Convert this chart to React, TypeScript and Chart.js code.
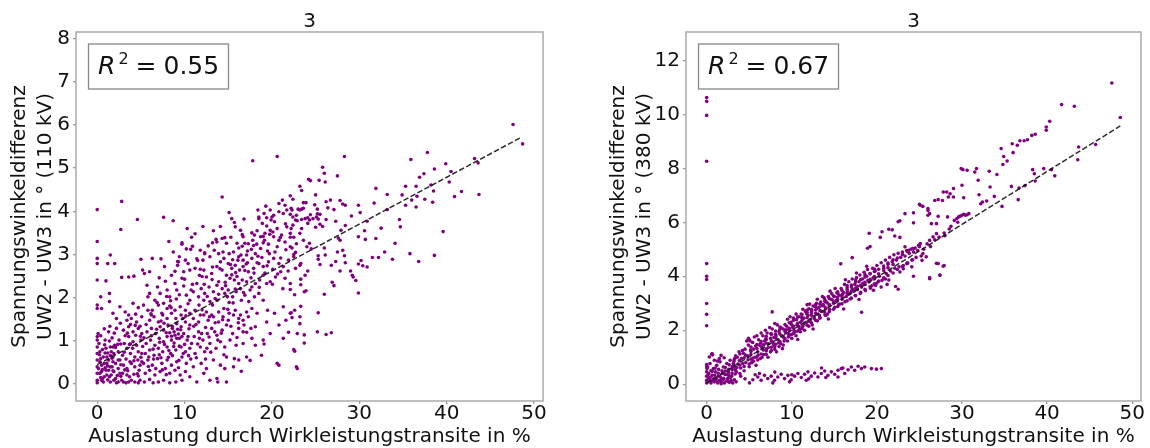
import React, { useEffect, useRef } from "react";
import { Chart, registerables } from "chart.js";

Chart.register(...registerables);

// ---------- data ----------
const xTicks = [0, 10, 20, 30, 40, 50];
const yTicks110 = [0, 1, 2, 3, 4, 5, 6, 7, 8];
const yTicks380 = [0, 2, 4, 6, 8, 10, 12];
const panelTitles = ["3", "3"];
const r2Values = ["0.55", "0.67"];
const xAxisLabel = "Auslastung durch Wirkleistungstransite in %";
const yAxisLabel110 = ["Spannungswinkeldifferenz", "UW2 - UW3 in ° (110 kV)"];
const yAxisLabel380 = ["Spannungswinkeldifferenz", "UW2 - UW3 in ° (380 kV)"];
const fit110: number[][] = [[0, 0.45], [48.6, 5.72]];
const fit380: number[][] = [[0, 0.04], [48.6, 9.57]];

const points110: number[][] = [
  [0,4.04],[0,3.30],[0,2.91],[0,2.79],[0,2.41],[0,1.83],[0,1.75],[0.1,1.17],[0,1.10],[0,1.02],[0,0.86],[0,0.71],[0,0.56],[0,0.40],[0,0.25],[0,0.09],[0,0.03],
  [0.2,0.94],[0.3,0.75],[0.4,0.59],[0.5,0.44],[0.5,0.29],[0.6,0.13],[0.7,0.05],
  [0.9,1.02],[1.0,0.83],[1.1,0.63],[1.1,0.48],[1.3,0.32],[1.4,0.17],[1.5,0.05],
  [1.5,0.86],[1.6,0.75],[1.8,0.63],[1.8,0.52],[1.7,0.40],[1.9,0.29],[2.1,0.13],[2.2,0.03],
  [0.7,0.63],[0.8,0.48],[1.0,0.32],[1.3,0.56],[1.5,0.40],[1.8,0.86],[1.9,0.71],[2.1,0.48],[2.4,0.36],[2.6,0.25],
  [0.3,0.25],[0.5,0.09],[0.8,0.17],[1.1,0.21],[1.6,0.21],[1.9,0.09],[2.4,0.05],[2.8,0.09],
  [0.4,0.15],[0.9,0.38],[1.2,0.10],[1.7,0.60],[2.3,0.20],[2.0,0.90],[0.6,0.80],[1.4,1.00],[2.7,0.45],[1.2,0.72],
  [0.3,0.52],[0.6,0.34],[0.9,0.72],[1.2,0.42],[1.5,0.66],[1.8,0.31],[2.1,0.85],[2.4,0.56],[2.7,0.18],[3.1,0.74],[3.5,0.31],[3.8,0.93],[4.2,0.54],[4.6,0.24],[5.0,0.62],
  [0.4,1.12],[0.8,1.28],[1.3,1.21],[1.7,1.07],[2.2,1.29],[2.7,0.93],[3.2,1.12],[3.8,1.38],[4.4,1.62],[4.9,1.34],
  [2.8,4.23],[2.7,3.58],[4.6,3.81],[7.6,3.86],[8.7,3.78],[11.2,3.48],
  [1.5,2.99],[1.2,2.79],[2.0,2.79],[1.0,2.39],[1.4,2.10],[1.4,1.91],[0.4,2.02],[0.5,1.75],
  [2.8,2.47],[3.6,2.48],[4.2,2.50],[5.0,2.89],[6.3,2.91],[5.2,2.64],[5.4,2.56],[7.1,2.46],[7.7,2.72],
  [5.7,2.29],[6.0,2.10],[5.8,2.02],[7.2,2.10],[8.0,2.18],[8.3,2.02],[8.9,2.33],[9.1,2.18],[9.9,2.27],[9.7,2.45],
  [9.3,2.83],[9.2,2.75],[10.1,2.87],[10.4,2.79],[10.6,2.64],[9.9,2.60],[8.5,2.52],
  [8.7,3.06],[9.7,3.24],[10.2,3.13],[10.9,3.19],[11.8,3.10],[12.3,3.02],[12.9,2.95],[12.1,2.87],
  [11.2,2.68],[11.7,2.52],[12.2,2.64],[12.5,2.48],[13.1,2.56],[13.7,2.72],[14.1,2.83],[14.5,2.91],
  [13.4,3.10],[13.9,3.02],[14.4,3.06],[15.1,3.02],[15.6,3.06],[16.2,2.95],[16.7,2.87],[17.1,2.99],[17.7,2.91],[18.1,3.02],
  [15.0,2.79],[15.4,2.68],[15.8,2.75],[16.3,2.64],[16.7,2.72],[17.3,2.60],[17.9,2.68],[18.5,2.79],[19.0,2.72],[19.6,2.83],[20.2,2.91],[20.8,2.79],[21.3,2.72],[21.9,2.87],[22.5,2.95],
  [14.8,2.52],[15.2,2.45],[15.7,2.41],[16.2,2.33],[16.6,2.41],[17.1,2.37],[17.7,2.25],[18.1,2.33],[18.6,2.41],[19.0,2.52],[19.4,2.33],[19.8,2.37],[20.4,2.48],[21.0,2.60],[21.5,2.45],[22.1,2.33],[22.7,2.68],[23.2,2.75],[23.8,2.52],
  [13.9,2.37],[14.3,2.21],[14.6,2.10],[15.0,2.18],[15.5,2.02],[15.9,2.14],[16.4,2.21],[16.9,2.06],[17.5,2.18],[18.0,2.02],[18.5,2.10],[19.0,1.94],
  [11.4,2.33],[11.9,2.21],[12.3,2.10],[12.8,2.25],[13.3,2.14],[13.5,1.98],[12.9,1.91],[12.2,1.94],[11.6,2.02],[11.0,2.14],[10.6,1.94],[10.2,2.06],
  [6.6,1.94],[7.0,1.83],[7.6,1.87],[8.0,1.75],[8.3,1.81],[8.9,1.71],[9.5,1.79],[10.1,1.71],[10.6,1.64],[11.2,1.71],[11.8,1.60],[12.5,1.67],[13.1,1.60],[13.9,1.67],[14.5,1.75],[15.1,1.64],[15.8,1.71],[16.4,1.60],[17.1,1.67],[17.7,1.75],[18.3,1.64],[19.5,1.71],[20.3,1.64],[21.3,1.79],[22.6,1.71],[23.2,1.56],
  [4.1,1.87],[4.7,1.77],[5.3,1.83],[5.8,1.71],[6.2,1.60],
  [2.6,1.79],[3.2,1.67],[3.6,1.60],[1.8,1.64],[2.2,1.52],
  [3.0,0.05],[3.3,0.03],[3.6,0.05],[3.9,0.09],[4.3,0.05],[4.7,0.03],[4.9,0.09],
  [2.9,0.25],[3.4,0.21],[3.7,0.17],[4.2,0.23],[4.7,0.19],
  [2.6,0.56],[3.0,0.44],[3.4,0.36],[3.9,0.48],[4.3,0.40],[4.8,0.32],[5.1,0.52],
  [2.4,0.75],[2.9,0.67],[3.4,0.83],[3.8,0.71],[4.3,0.63],[4.7,0.75],[5.1,0.71],
  [2.5,1.02],[3.1,0.94],[3.6,1.10],[4.1,0.98],[4.5,0.90],[5.0,1.02],
  [3.0,1.25],[3.6,1.33],[4.1,1.21],[4.7,1.29],[5.1,1.17],
  [3.4,1.48],[3.9,1.52],[4.5,1.44],[5.1,1.56],
  [5.4,0.05],[6.0,0.11],[6.4,0.03],[7.0,0.05],[7.6,0.09],[8.3,0.03],[9.0,0.05],[9.7,0.09],
  [5.5,0.25],[6.0,0.32],[6.6,0.21],[7.2,0.29],[7.8,0.36],[8.3,0.25],[8.9,0.32],[9.5,0.21],[10.1,0.29],
  [5.3,0.48],[5.8,0.56],[6.3,0.44],[6.9,0.59],[7.4,0.48],[8.0,0.56],[8.5,0.44],[9.1,0.52],[9.7,0.63],[10.2,0.48],
  [5.5,0.71],[6.0,0.79],[6.5,0.67],[7.0,0.83],[7.5,0.75],[8.0,0.86],[8.4,0.71],[9.0,0.79],[9.6,0.86],[10.1,0.75],[10.6,0.83],
  [5.6,0.94],[6.1,1.02],[6.6,0.90],[7.1,1.06],[7.6,0.98],[8.0,1.10],[8.5,1.02],[8.9,1.13],[9.4,1.06],[9.9,1.17],[10.4,1.10],
  [5.7,1.21],[6.2,1.29],[6.7,1.17],[7.2,1.33],[7.6,1.25],[8.1,1.37],[8.6,1.29],[9.1,1.40],[9.6,1.33],[10.1,1.44],[10.6,1.37],
  [6.0,1.48],[6.5,1.56],[7.0,1.44],[7.5,1.60],[8.0,1.52],[8.5,1.64],[9.0,1.52],[9.6,1.60],
  [8.3,1.19],[8.5,1.11],[8.8,1.21],[9.1,1.06],[9.3,1.16],[9.7,1.10],
  [3.3,0.58],[3.7,0.92],[4.4,1.13],[4.9,0.44],[5.2,0.87],[5.6,1.38],[5.9,0.63],[6.2,1.12],[6.4,0.81],[6.8,1.27],[7.1,0.68],[7.3,1.46],[7.7,0.92],[7.9,1.19],[8.2,0.78],[8.6,1.34],[8.8,0.95],[9.2,1.27],[9.4,0.88],[9.8,1.52],
  [10.3,1.02],[10.5,1.28],[10.8,0.94],[11.3,1.38],[11.7,1.06],[12.0,1.72],[12.4,1.31],[12.8,1.09],[13.2,1.83],[13.5,1.42],[13.9,2.08],[14.2,1.18],[14.7,2.28],[15.1,1.89],[15.4,2.53],[15.8,2.20],[16.1,2.87],[16.5,1.94],[16.9,2.63],[17.2,3.08],[17.6,2.46],[17.9,3.21],[18.3,2.81],[18.7,3.14],[19.2,2.57],[19.7,3.02],[20.1,2.66],[20.6,3.18],[21.0,2.92],[21.6,3.11],
  [6.3,1.71],[6.9,2.25],[7.4,1.64],[7.8,2.38],[8.4,1.93],[8.9,2.61],[9.4,2.07],[10.0,2.43],[10.4,1.86],[10.9,2.31],[11.5,2.86],[12.0,2.49],[12.6,2.03],[13.2,2.71],[13.7,2.29],[14.3,2.64],[14.9,2.02],[15.5,2.88],[16.0,2.49],[16.6,3.19],[17.2,2.81],[17.8,3.33],[18.4,2.96],[19.0,3.42],[19.5,3.08],[20.1,3.52],
  [6.7,0.36],[7.3,0.61],[7.9,0.22],[8.6,0.66],[9.3,0.38],[10.0,0.92],[10.7,0.58],[11.5,0.93],[12.4,0.58],[13.0,0.74],[13.8,1.02],[14.5,0.68],[15.3,1.34],[16.0,1.08],[16.8,1.37],[17.6,1.29],
  [5.35,1.07],[5.85,0.41],[6.15,1.63],[6.45,0.58],[6.85,1.89],[7.15,0.97],[7.45,0.33],[7.65,1.41],[7.95,2.03],[8.15,0.62],[8.45,1.77],[8.75,0.87],[9.05,1.97],[9.35,0.55],[9.55,1.26],[9.85,0.71],[10.15,1.58],[10.45,0.66],[10.75,2.18],[11.05,1.34],
  [11.35,0.61],[11.65,1.83],[11.95,1.17],[12.25,2.31],[12.55,0.83],[12.85,1.56],[13.15,2.42],[13.45,1.21],[13.75,1.94],[14.05,2.67],[14.35,1.49],[14.65,2.36],[14.95,1.73],[15.25,2.77],[15.55,1.88],[15.85,2.58],[16.15,1.42],[16.45,2.99],[16.75,2.12],[17.05,2.78],
  [17.35,1.91],[17.65,3.12],[17.95,2.57],[18.25,3.24],[18.55,2.24],[18.85,2.93],[19.15,3.33],[19.45,2.74],[19.75,3.47],[20.05,2.31],[20.35,3.06],[20.65,2.55],[20.95,3.39],[21.25,2.21],[21.55,3.71],[21.85,2.62],
  [4.05,0.83],[4.35,1.36],[4.65,0.56],[4.95,1.11],[3.15,0.33],[3.45,1.18],[3.75,0.52],[2.35,0.92],[2.65,1.41],[1.95,1.18],[1.45,1.34],[0.85,0.91],[0.25,0.68],[0.15,0.36],
  [6.0,2.60],[7.3,2.90],[8.2,3.30],[9.4,2.95],[10.8,3.40],[11.4,2.90],[12.7,3.20],[13.3,3.55],[12.1,3.65],[10.3,3.60],[15.3,3.40],[16.2,3.15],[17.3,3.25],[18.3,3.55],[19.4,3.85],[14.1,3.65],
  [10.6,0.17],[11.4,0.05],[12.2,0.25],[12.9,0.09],[13.7,0.13],[14.8,0.05],
  [11.0,0.40],[11.9,0.48],[12.5,0.36],[13.3,0.56],[14.1,0.44],[14.8,0.63],[15.6,0.40],[16.2,0.56],
  [11.2,0.71],[11.8,0.86],[12.3,0.75],[12.9,0.94],[13.6,0.83],[14.1,0.98],[14.6,0.86],[15.2,1.02],[15.9,0.90],
  [11.1,1.10],[11.6,1.21],[12.1,1.02],[12.6,1.17],[13.1,1.29],[13.7,1.13],[14.3,1.25],[14.8,1.37],[15.5,1.17],[16.2,1.29],[16.7,1.21],
  [11.0,1.52],[11.6,1.44],[12.2,1.60],[12.7,1.48],[13.3,1.56],[13.9,1.44],[14.4,1.56],[15.0,1.48],[15.6,1.60],[16.2,1.52],[16.7,1.48],[17.3,1.56],
  [16.7,0.94],[17.7,1.06],[19.0,1.02],[19.8,1.17],[21.3,1.06],[22.9,1.17],[17.1,0.63],[18.8,0.67],[20.8,0.44],[22.8,0.40],[20.6,0.48],[22.5,0.80],
  [18.1,1.33],[19.4,1.44],[20.8,1.37],[21.6,1.48],[23.2,1.40],[16.5,0.30],[21.9,1.20],[22.2,1.65],[19.1,0.93],[17.5,0.55],[18.1,0.90],[15.7,0.59],[17.1,1.20],[14.6,0.36],[13.8,0.05],
  [15.1,3.97],[15.4,3.83],[15.7,3.74],[15.8,3.64],
  [14.3,3.37],[14.6,3.39],[14.8,3.26],[13.7,3.29],[13.2,3.27],
  [16.4,3.56],[16.6,3.46],[16.7,3.41],[16.0,3.26],[16.9,3.26],[17.7,3.50],[18.0,3.45],
  [18.5,3.83],[18.9,3.72],[19.4,3.66],[19.9,3.80],[20.3,3.76],[20.6,3.60],[19.8,3.56],[19.2,3.49],[18.7,3.41],[19.0,3.27],[19.6,3.24],[20.2,3.41],[20.8,3.33],[21.1,3.45],[21.5,3.29],[22.1,3.49],[22.4,3.68],[22.7,3.80],[22.8,3.91],[23.2,4.03],[23.6,4.07],[23.8,3.83],[24.1,3.72],[23.4,3.60],[23.2,3.49],[23.6,3.33],[24.0,3.18],[22.1,3.18],[21.7,3.64],[21.3,3.95],[20.8,3.99],[20.2,3.91],[21.7,4.03],[22.2,4.07],[19.8,4.03],[19.1,3.95],
  [14.3,4.33],[17.8,5.17],[20.6,5.27],[19.3,4.12],[18.4,4.03],[21.2,4.26],[21.5,4.14],[20.8,4.18],[16.8,3.82],[18.5,3.87],[20.0,3.87],
  [9.2,2.84],[9.7,3.27],[10.7,3.12],[11.8,2.66],[12.3,3.04],[13.6,3.35],
  [47.6,6.01],[48.7,5.56],[28.3,5.27],[37.8,5.36],[35.9,5.20],[43.2,5.22],[43.6,5.12],[39.9,5.10],[38.6,4.98],[40.5,4.92],[25.8,5.02],[26.0,4.88],[27.5,4.82],[36.9,4.79],[37.4,4.87],[24.2,4.74],[24.4,4.71],[25.4,4.72],[26.1,4.68],[40.3,4.68],[31.9,4.53],[35.3,4.58],[36.5,4.58],[38.2,4.61],[38.5,4.47],[41.7,4.46],[43.7,4.39],[40.9,4.34],
  [22.1,4.36],[22.4,4.28],[23.2,4.58],[23.4,4.48],[25.0,4.38],[33.2,4.39],[34.9,4.38],[36.0,4.26],[36.6,4.35],[36.5,4.10],[37.5,4.28],[38.4,4.21],[31.7,4.19],[35.3,4.14],[23.6,4.20],[23.9,4.20],[26.2,4.22],[26.7,4.26],[27.8,4.25],[28.1,4.17],[28.4,4.14],[29.9,4.14],[30.1,3.97],[27.1,4.04],[26.4,4.08],[23.0,4.05],[23.4,4.05],[24.9,4.15],[25.2,4.05],[22.3,4.03],[22.1,3.93],[22.4,3.87],[22.9,3.78],[23.4,3.81],
  [24.1,3.85],[24.4,3.92],[24.3,3.80],[24.7,3.83],[25.1,3.87],[25.2,3.94],[25.3,3.82],[25.5,3.93],
  [22.2,3.60],[22.5,3.40],[22.8,3.25],[22.3,3.15],[22.7,3.05],[22.1,3.40],[22.5,3.00],
  [26.2,3.81],[27.3,3.77],[29.1,3.89],[30.9,3.77],[32.5,3.61],[33.2,4.04],[34.6,3.81],[34.7,3.64],[25.0,3.63],[25.5,3.70],[25.8,3.65],[28.4,3.67],[29.9,3.41],[30.6,3.55],[27.9,3.56],[27.6,3.38],[27.8,3.33],[31.9,3.37],[39.6,3.53],[30.7,3.35],
  [24.5,3.13],[24.3,3.26],[26.0,3.15],[25.3,2.89],[25.3,2.97],[26.1,2.99],[27.5,3.06],[28.1,3.10],[28.3,2.97],[28.4,2.81],[31.5,2.93],[32.2,2.93],[32.9,3.06],[34.1,3.26],[33.8,2.89],[35.8,3.02],[36.8,2.84],[38.6,2.98],
  [29.9,2.78],[30.2,2.86],[30.4,2.74],[30.9,2.71],[27.8,2.62],[29.0,2.62],[29.2,2.52],[29.3,2.48],[29.6,2.40],[26.8,2.75],[27.3,2.84],[25.5,2.77],[24.1,2.62],[23.3,2.79],[23.3,2.43],
  [26.0,2.08],[26.9,2.36],[27.1,2.28],[25.3,1.65],[23.7,2.14],[23.9,2.16],[23.3,2.30],[22.6,2.07],[22.1,2.19],[23.3,1.80],[22.1,1.64],[22.3,1.54],[29.9,2.11],
  [25.2,1.21],[26.2,1.15],[26.8,1.19],[23.7,1.14],[23.7,0.95],[22.6,0.76],[22.9,0.36]
];

const points380: number[][] = [
  [0,10.62],[0,10.48],[0,9.96],[0,8.26],[0,4.47],[0,4.00],[0,3.88],[0,2.99],[0,2.59],[0,2.17],[0,0.73],[0.04,0.58],[0,0.46],[0,0.30],[0,0.65],[0,0.15],[0,0.05],
  [0.12,0.09],[0.31,0.17],[0.51,0.05],[0.71,0.15],[0.90,0.09],[1.10,0.21],[1.30,0.05],[1.49,0.15],[1.69,0.09],[1.88,0.17],[2.08,0.05],[2.28,0.12],[2.47,0.21],[2.67,0.07],[2.87,0.15],[3.06,0.05],[3.26,0.17],[3.46,0.09],
  [0.24,0.40],[0.63,0.33],[1.02,0.46],[1.41,0.30],[1.81,0.40],[2.20,0.49],[2.59,0.33],[2.98,0.42],[3.38,0.52],
  [0.12,0.64],[0.39,0.77],[0.79,0.58],[1.18,0.70],[1.57,0.83],[1.96,0.64],[2.36,0.77],[2.75,0.89],[3.14,0.70],
  [0.31,1.01],[0.90,0.89],[1.49,0.95],[0.63,1.14],[1.69,1.07],[0.59,1.10],[0.70,1.09],
  [0.4,0.25],[0.8,0.20],[1.2,0.12],[1.6,0.28],[2.0,0.22],[2.4,0.35],[2.8,0.25],[1.0,0.60],[1.4,0.55],[1.8,0.50],[2.2,0.62],[2.6,0.55],[3.0,0.65],[0.5,0.50],[0.2,0.20],[1.7,0.02],[2.5,0.10],
  [0.15,0.31],[0.45,0.12],[0.95,0.33],[1.35,0.41],[1.75,0.18],[2.15,0.36],[2.55,0.44],[2.95,0.31],[3.35,0.38],[0.65,0.47],[1.25,0.86],[2.05,0.98],[2.65,0.72],[3.25,0.93],
  [3.0,0.55],[3.2,0.85],[3.4,1.05],[3.5,0.45],[3.7,0.75],[3.8,1.20],[4.0,0.60],[4.1,0.95],[4.3,1.15],[4.4,0.50],[4.5,1.30],[4.6,0.80],[4.8,1.05],[4.9,1.45],[5.0,0.65],[4.2,1.25],[3.6,1.00],[3.9,0.40],[4.7,1.60],[5.0,1.65],
  [3.3,0.62],[3.3,0.95],[3.9,0.71],[3.9,1.12],[4.4,0.98],[4.4,0.66],
  [3.15,0.78],[3.55,0.62],[3.85,0.88],[4.25,0.77],[4.55,1.08],[4.85,0.91],[5.15,1.27],[5.45,0.97],[5.75,1.42],[6.05,1.08],[6.35,1.52],[6.65,1.27],[6.95,1.69],[7.25,1.36],[7.55,1.88],[7.85,1.47],[8.15,1.79],[8.45,1.54],[8.75,2.09],[9.05,1.73],
  [9.35,2.02],[9.65,1.86],[9.95,2.21],[10.25,1.99],[10.55,2.39],[10.85,2.14],[11.15,2.47],[11.45,2.24],[11.75,2.61],[12.05,2.33],[12.35,2.72],[12.65,2.44],[12.95,2.81],[13.25,2.55],[13.55,2.91],[13.85,2.68],[14.15,3.01],[14.45,2.77],[14.75,3.13],[15.05,2.85],
  [15.35,3.22],[15.65,2.97],[15.95,3.33],[16.25,3.06],[16.55,3.43],[16.85,3.16],[17.15,3.52],[17.45,3.29],[17.75,3.63],[18.05,3.36],[18.35,3.74],[18.65,3.47],[18.95,3.85],[19.25,3.56],[19.55,3.94],[19.85,3.66],
  [6.7,1.46],[7.9,1.73],[9.5,2.41],[11.3,2.78],[12.1,2.97],[13.6,3.25],[15.1,3.55],[16.3,3.87],[17.6,4.12],[18.8,4.37],[8.9,1.32],[10.7,1.66],[12.5,2.05],[14.3,2.42],[16.1,2.79],[17.9,3.14],[19.6,3.48],[21.4,3.86],
  [4.9,1.70],[5.1,1.60],[5.4,1.55],[5.6,1.75],[5.9,1.80],[6.1,1.65],[6.4,1.90],[6.6,1.80],[6.9,2.00],[7.1,1.90],[7.4,2.10],[7.7,2.05],[8.0,2.25],[8.3,2.20],
  [5.2,1.10],[5.3,0.80],[5.5,1.30],[5.7,1.00],[5.8,0.70],[6.0,1.20],[6.2,1.45],[6.3,0.95],[6.5,1.35],[6.7,1.10],[6.8,1.60],[7.0,1.30],[7.2,1.00],[7.3,1.50],[7.5,1.70],[7.6,1.25],[7.8,1.55],[8.0,1.40],[8.1,1.85],[8.2,1.20],[8.4,1.65],[8.5,1.95],[8.7,1.50],[8.8,1.80],[9.0,2.05],[9.1,1.60],[9.3,1.90],[9.4,2.15],[9.6,1.75],[9.7,2.00],[9.9,2.30],[10.0,1.85],[10.1,2.10],[10.3,2.40],[10.4,1.95],[10.6,2.20],[10.8,2.50],[10.9,2.05],[7.7,2.68],
  [5.2,1.38],[5.2,0.93],[5.2,1.21],[5.9,1.02],[5.9,1.47],[5.9,1.33],[6.4,1.58],[6.4,1.12],[6.4,1.41],[7.0,1.66],[7.0,1.23],[7.0,1.52],[7.0,1.78],[7.6,1.84],[7.6,1.37],[7.6,1.61],
  [8.1,1.97],[8.1,1.48],[8.1,1.72],[8.6,2.04],[8.6,1.58],[8.6,1.86],[8.6,2.12],[9.2,2.21],[9.2,1.69],[9.2,1.96],[9.7,2.28],[9.7,1.81],[9.7,2.07],
  [10.2,2.37],[10.2,1.88],[10.2,2.16],[10.2,2.45],[10.7,2.49],[10.7,1.97],[10.7,2.26],[11.2,2.58],[11.2,2.07],[11.2,2.36],[11.8,2.66],[11.8,2.19],[11.8,2.47],[11.8,2.74],
  [12.3,2.77],[12.3,2.28],[12.3,2.56],[12.8,2.86],[12.8,2.37],[12.8,2.63],[12.8,2.94],[13.3,2.97],[13.3,2.48],[13.3,2.73],[13.9,3.07],[13.9,2.57],[13.9,2.86],[13.9,3.12],
  [14.4,3.18],[14.4,2.69],[14.4,2.95],[14.9,3.27],[14.9,2.78],[14.9,3.05],[15.4,3.36],[15.4,2.88],[15.4,3.14],[15.4,3.43],[15.9,3.47],[15.9,2.98],[15.9,3.24],
  [16.5,3.58],[16.5,3.09],[16.5,3.36],[16.5,3.66],[17.0,3.68],[17.0,3.19],[17.0,3.45],[17.5,3.79],[17.5,3.28],[17.5,3.56],[17.5,3.86],[18.1,3.88],[18.1,3.41],[18.1,3.67],
  [18.6,3.97],[18.6,3.52],[18.6,3.78],[18.6,4.06],[19.2,4.09],[19.2,3.61],[19.2,3.89],[19.7,4.18],[19.7,3.72],[19.7,3.99],[19.7,4.27],[20.2,4.26],[20.2,3.82],[20.2,4.09],
  [20.8,4.38],[20.8,3.94],[20.8,4.21],[21.3,4.49],[21.3,4.03],[21.3,4.32],[21.9,4.61],[21.9,4.12],[21.9,4.44],[22.4,4.68],[22.4,4.25],[23.0,4.81],[23.0,4.36],[23.6,4.92],[23.6,4.48],[24.2,5.03],[24.2,4.61],
  [5.5,0.85],[6.5,1.00],[7.5,1.20],[8.5,1.40],[9.5,1.60],[10.5,1.80],[5.0,0.75],[6.0,0.90],[7.0,1.10],[8.0,1.30],[9.0,1.45],[10.0,1.70],[11.0,1.95],[12.0,2.15],[13.0,2.35],[14.0,2.55],
  [11.0,2.30],[11.1,2.60],[11.3,2.15],[11.4,2.45],[11.6,2.70],[11.7,2.30],[11.9,2.55],[12.0,2.80],[12.2,2.40],[12.3,2.65],[12.5,2.90],[12.6,2.50],[12.8,2.75],[12.9,3.00],[13.1,2.60],[13.2,2.85],[13.4,3.05],[13.5,2.70],[13.7,2.95],[13.8,3.20],[14.0,2.80],[14.1,3.05],[14.3,3.25],[14.4,2.90],[14.6,3.15],[14.7,3.35],[14.9,3.00],[15.0,3.25],[11.5,2.00],[12.4,2.20],[13.3,2.45],[14.2,2.60],[10.5,2.60],[11.8,2.95],[13.0,3.15],[14.5,3.45],[9.8,2.50],
  [15.2,3.10],[15.3,3.40],[15.5,2.95],[15.6,3.30],[15.8,3.55],[15.9,3.15],[16.1,3.40],[16.2,3.70],[16.4,3.25],[16.5,3.50],[16.7,3.80],[16.8,3.35],[17.0,3.60],[17.1,3.90],[17.3,3.45],[17.4,3.70],[17.6,3.95],[17.7,3.50],[17.9,3.80],[18.0,4.05],[18.2,3.60],[18.3,3.90],[18.5,4.15],[18.6,3.70],[18.8,4.00],[18.9,4.25],[19.1,3.80],[19.2,4.10],[19.4,3.65],[19.5,4.30],[19.7,3.90],[19.8,4.20],[20.0,3.75],[20.0,4.40],
  [15.75,4.46],[17.1,4.69],[18.2,2.67],
  [19.1,5.59],[18.9,5.04],[19.2,5.10],[20.6,5.65],[20.4,5.44],[21.4,5.74],[21.8,5.72],[22.5,6.02],[22.7,6.06],[22.1,5.49],[22.7,5.44],
  [20.3,4.00],[20.5,4.50],[20.6,3.85],[20.8,4.30],[21.0,4.60],[21.1,4.10],[21.3,4.45],[21.5,4.70],[21.6,4.20],[21.8,4.55],[22.0,4.80],[22.1,4.30],[22.3,4.60],[22.5,4.85],[22.6,4.35],[22.8,4.70],[23.0,4.90],[23.1,4.40],[23.3,4.75],[23.5,4.95],[23.6,4.50],[23.8,4.85],[24.0,5.00],[24.1,4.60],[24.3,4.90],[24.5,5.05],[24.6,4.70],[24.8,4.95],[25.0,5.10],[25.2,4.75],[20.5,3.60],[21.2,3.70],[22.2,3.62],[22.5,3.52],[21.0,3.90],
  [22.7,4.16],[23.1,4.28],[23.5,4.47],[24.1,4.35],[24.3,4.00],[23.3,5.09],[23.7,4.96],[24.3,5.02],[24.9,5.15],[25.1,5.21],[25.4,4.84],[25.3,4.59],[25.8,4.72],[26.2,5.33],[26.6,5.46],[27.0,5.58],[27.2,4.47],[27.4,4.04],[27.8,4.37],[26.2,3.91],
  [25.0,6.67],[25.4,6.59],[23.3,6.32],[24.3,6.35],[26.0,6.51],[26.2,6.32],
  [24.3,5.98],[25.1,6.63],[26.0,6.44],[26.0,6.26],[26.4,5.95],[26.8,6.81],[27.2,6.84],[27.7,6.81],[27.8,7.12],[28.2,7.12],[28.6,7.06],[28.4,6.94],[29.0,7.25],
  [28.3,6.20],[27.2,6.22],[27.0,5.95],[29.0,6.94],[29.1,6.07],[29.4,6.14],[29.6,6.20],[29.8,6.23],[30.0,6.26],[30.2,6.30],[30.4,6.26],[30.6,6.28],[30.8,6.32],
  [29.9,7.99],[30.1,7.95],[30.6,7.93],[30.0,7.37],[30.2,6.91],[31.5,7.86],[31.7,7.99],[31.9,7.56],[32.0,7.02],[32.2,6.69],[32.4,6.75],[32.9,6.79],[33.2,7.89],[33.3,7.31],[33.8,6.96],[34.1,7.77],[34.7,6.59],
  [34.6,8.73],[34.9,8.44],[35.3,8.27],[34.8,8.14],[35.9,8.91],[36.0,8.58],[36.5,8.85],[36.8,9.02],[37.3,9.02],[37.7,9.06],[38.2,9.22],[38.6,9.26],
  [35.8,7.33],[36.7,7.27],[36.6,6.84],[37.4,7.36],[38.3,7.95],[38.5,7.80],[38.6,7.53],[39.6,7.99],[40.5,7.95],[40.9,7.72],
  [39.9,9.53],[39.9,9.41],[40.3,9.74],[41.7,10.36],[43.2,10.30],[43.7,8.79],[43.6,8.32],[45.7,8.88],[47.6,11.16],[48.6,9.88],
  [25.5,5.00],[25.9,5.20],[26.3,5.10],[26.8,5.35],[27.3,5.45],[27.9,5.60],[28.5,5.75],[28.0,5.50],[28.7,5.85],[29.5,6.00],
  [26.2,3.95],[27.4,4.05],[27.0,4.48],[27.9,4.40],
  [5.03,0.05],[5.42,0.17],[6.01,0.27],[6.40,0.15],[6.79,0.33],[7.18,0.21],[7.58,0.30],[7.97,0.15],[8.36,0.27],[8.76,0.37],[9.15,0.21],[9.54,0.33],[9.93,0.17],[10.33,0.30],[10.72,0.40],[11.11,0.25],[11.50,0.37],[11.90,0.46],[12.29,0.30],[12.68,0.42],[13.07,0.27],[13.47,0.40],[13.86,0.49],[14.25,0.33],[14.64,0.46],[15.04,0.37],[15.43,0.52],[15.82,0.58],[16.22,0.40],[16.61,0.54],[17.00,0.64],[17.39,0.52],[17.79,0.67],[18.18,0.58],[18.57,0.64],[19.36,0.58],[19.94,0.56],[20.53,0.58],[15.43,0.27],[11.70,0.15],[7.77,0.05],[9.74,0.09],
  [6.2,0.40],[8.0,0.45],[10.0,0.35],[12.0,0.20],[14.0,0.25],[16.0,0.60],[13.5,0.60],[4.5,0.20],[4.0,0.30],[5.7,0.35]
];

// ---------- drawing ----------
const FONT = "DejaVu Sans";

type PanelProps = {
  width: number;
  yWidth: number;
  padRight: number;
  yMin: number;
  yMax: number;
  yTicks: number[];
  yLabel: string[];
  yTitlePad: number;
  points: number[][];
  fit: number[][];
  title: string;
  r2: string;
};

function Panel(p: PanelProps) {
  const ref = useRef<HTMLCanvasElement | null>(null);
  useEffect(() => {
    if (!ref.current) return;
    const decor = {
      id: "decor",
      afterDatasetsDraw(chart: any) {
        const { ctx, chartArea: a } = chart;
        ctx.save();
        ctx.strokeStyle = "#aaaaaa";
        ctx.lineWidth = 1.5;
        ctx.strokeRect(a.left, a.top, a.right - a.left, a.bottom - a.top);
        ctx.fillStyle = "#111";
        ctx.font = `20px "${FONT}"`;
        ctx.textAlign = "center";
        ctx.textBaseline = "middle";
        ctx.fillText(p.title, (a.left + a.right) / 2, 21.5);
        const bx = a.left + 12.5;
        const by = a.top + 12;
        const bw = 140;
        const bh = 45;
        ctx.fillStyle = "#ffffff";
        ctx.fillRect(bx, by, bw, bh);
        ctx.strokeStyle = "#888888";
        ctx.lineWidth = 1.3;
        ctx.strokeRect(bx, by, bw, bh);
        const base = by + 29.5;
        ctx.fillStyle = "#111";
        ctx.textAlign = "left";
        ctx.textBaseline = "alphabetic";
        ctx.font = `italic 25px "${FONT}"`;
        ctx.fillText("R", bx + 9.5, base);
        ctx.font = `16px "${FONT}"`;
        ctx.fillText("2", bx + 30, base - 10);
        ctx.font = `25px "${FONT}"`;
        ctx.fillText("=", bx + 47, base);
        ctx.fillText(p.r2, bx + 75, base);
        ctx.restore();
      },
    };
    const tickFont = { family: FONT, size: 20, lineHeight: 1 };
    const chart = new Chart(ref.current, {
      type: "scatter",
      data: {
        datasets: [
          {
            type: "line",
            data: p.fit.map(([x, y]) => ({ x, y })),
            borderColor: "rgba(20,20,20,0.9)",
            borderWidth: 1.5,
            borderDash: [5.5, 2.4],
            pointRadius: 0,
            fill: false,
            order: 0,
          } as any,
          {
            data: p.points.map(([x, y]) => ({ x, y })),
            backgroundColor: "#800080",
            borderWidth: 0,
            pointRadius: 1.8,
            order: 1,
          },
        ],
      },
      options: {
        animation: false,
        responsive: false,
        devicePixelRatio: 1,
        events: [],
        layout: { padding: { top: 32, right: p.padRight, bottom: 0, left: 0 } },
        plugins: { legend: { display: false }, tooltip: { enabled: false } },
        scales: {
          x: {
            type: "linear",
            min: -2.43,
            max: 51.03,
            afterBuildTicks: (s: any) => {
              s.ticks = xTicks.map((v) => ({ value: v }));
            },
            afterFit: (s: any) => {
              s.height = 47;
            },
            grid: { display: true, drawOnChartArea: false, drawTicks: true, tickLength: 3, color: "#999", lineWidth: 1.3 },
            border: { display: false },
            ticks: { font: tickFont, color: "#111", padding: 0, maxRotation: 0, autoSkip: false },
            title: {
              display: true,
              text: xAxisLabel,
              color: "#111",
              font: { family: FONT, size: 20, lineHeight: 1 },
              padding: { top: 0, bottom: 1 },
            },
          },
          y: {
            type: "linear",
            min: p.yMin,
            max: p.yMax,
            afterBuildTicks: (s: any) => {
              s.ticks = p.yTicks.map((v) => ({ value: v }));
            },
            afterFit: (s: any) => {
              s.width = p.yWidth;
            },
            grid: { display: true, drawOnChartArea: false, drawTicks: true, tickLength: 3, color: "#999", lineWidth: 1.3 },
            border: { display: false },
            ticks: { font: tickFont, color: "#111", padding: 3, autoSkip: false },
            title: {
              display: true,
              text: p.yLabel,
              color: "#111",
              font: { family: FONT, size: 20, lineHeight: 1.3 },
              padding: { top: p.yTitlePad, bottom: 0 },
            },
          },
        },
      },
      plugins: [decor],
    } as any);
    return () => chart.destroy();
  }, []);
  return <canvas ref={ref} width={p.width} height={448} style={{ display: "block", width: p.width, height: 448 }} />;
}

export default function App() {
  return (
    <div style={{ position: "absolute", left: 0, top: 0, width: 1150, height: 448, display: "flex", background: "#fff" }}>
      <Panel
        width={600}
        yWidth={76}
        padRight={57}
        yMin={-0.39}
        yMax={8.15}
        yTicks={yTicks110}
        yLabel={yAxisLabel110}
        yTitlePad={7}
        points={points110}
        fit={fit110}
        title={panelTitles[0]}
        r2={r2Values[0]}
      />
      <Panel
        width={550}
        yWidth={86}
        padRight={9}
        yMin={-0.62}
        yMax={13.05}
        yTicks={yTicks380}
        yLabel={yAxisLabel380}
        yTitlePad={5.6}
        points={points380}
        fit={fit380}
        title={panelTitles[1]}
        r2={r2Values[1]}
      />
    </div>
  );
}
